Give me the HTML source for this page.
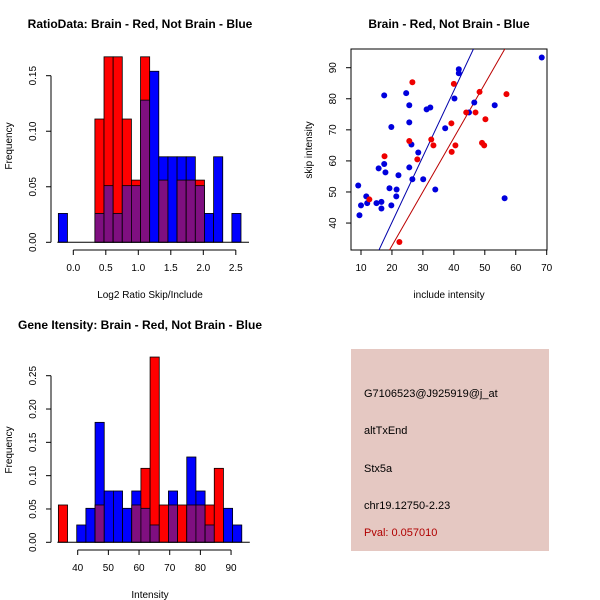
<!DOCTYPE html>
<html><head><meta charset="utf-8"><style>
body{margin:0;background:#fff;}
svg{display:block;font-family:"Liberation Sans",sans-serif;}
</style></head><body>
<svg id="c" width="600" height="600" viewBox="0 0 600 600">
<rect x="0" y="0" width="600" height="600" fill="#fff"/>
<text x="140" y="28" font-size="12" font-weight="bold" text-anchor="middle">RatioData: Brain - Red, Not Brain - Blue</text>
<text x="449" y="28" font-size="12" font-weight="bold" text-anchor="middle">Brain - Red, Not Brain - Blue</text>
<text x="140" y="329" font-size="12" font-weight="bold" text-anchor="middle">Gene Itensity: Brain - Red, Not Brain - Blue</text>
<text x="150" y="298" font-size="10" text-anchor="middle">Log2 Ratio Skip/Include</text>
<text transform="translate(12,146) rotate(-90)" font-size="10" text-anchor="middle">Frequency</text>
<text x="449" y="298" font-size="10" text-anchor="middle">include intensity</text>
<text transform="translate(312,150) rotate(-90)" font-size="10" text-anchor="middle">skip intensity</text>
<text x="150" y="598" font-size="10" text-anchor="middle">Intensity</text>
<text transform="translate(12,450) rotate(-90)" font-size="10" text-anchor="middle">Frequency</text>
<g id="p1"></g><g id="p2"></g><g id="p3"></g>
<g>
<rect x="351" y="349" width="198" height="202" fill="#E5C8C2"/>
<text x="364" y="397" font-size="11">G7106523@J925919@j_at</text>
<text x="364" y="434" font-size="11">altTxEnd</text>
<text x="364" y="472" font-size="11">Stx5a</text>
<text x="364" y="509" font-size="11">chr19.12750-2.23</text>
<text x="364" y="536" font-size="11" fill="#B00000">Pval: 0.057010</text>
</g>
</svg>
<script>
// Ratio histogram data
const ratioBinStart = -0.23;
const ratioBinWidth = 0.1405;
const ratioBlue = [0.026,0,0,0,0.026,0.051,0.026,0.051,0.051,0.128,0.154,0.077,0.077,0.077,0.077,0.051,0.026,0.077,0,0.026];
const ratioRed  = [0,0,0,0,0.111,0.167,0.167,0.111,0.056,0.167,0,0.056,0,0.056,0.056,0.056,0,0,0,0];
const ratioXTicks = [0.0,0.5,1.0,1.5,2.0,2.5];
const ratioYTicks = [0.00,0.05,0.10,0.15];
// Intensity histogram data
const intBinStart = 33.7;
const intBinWidth = 2.99;
const intBlue = [0,0,0.026,0.051,0.18,0.077,0.077,0.051,0.077,0.051,0.026,0,0.077,0,0.128,0.077,0.026,0,0.051,0.026];
const intRed  = [0.056,0,0,0,0.056,0,0,0,0.056,0.111,0.278,0.056,0.056,0.056,0.056,0.056,0.056,0.111,0,0];
const intXTicks = [40,50,60,70,80,90];
const intYTicks = [0.00,0.05,0.10,0.15,0.20,0.25];
// Scatter data
const blueX = [9.1,9.5,10.0,11.7,12.0,15.0,15.7,16.6,16.6,17.5,17.5,17.9,19.2,19.8,19.8,21.5,21.4,22.1,24.6,25.6,25.6,26.3,25.6,26.6,28.5,30.1,31.2,32.4,34.0,37.2,40.2,41.6,41.6,44.9,46.6,53.2,56.4,68.4];
const blueY = [52.1,42.5,45.7,48.6,46.4,46.4,57.6,46.8,44.7,81.1,59.0,56.3,51.2,70.9,45.7,50.8,48.6,55.4,81.8,77.9,72.4,65.3,57.9,54.1,62.7,54.1,76.6,77.2,50.8,70.5,80.1,89.5,88.2,75.6,78.8,77.9,48.0,93.3];
const redX = [12.7,17.6,26.6,25.6,28.2,32.7,33.4,22.4,40.0,39.2,39.3,40.5,44.0,48.3,47.0,50.2,49.1,49.8,57.0];
const redY = [47.6,61.5,85.3,66.4,60.5,66.9,65.0,33.9,84.8,72.1,62.9,65.0,75.6,82.2,75.6,73.4,65.8,65.0,81.5];
const blueFit = [-2.2,2.12];
const redFit = [-2.05,1.737];
const scatXTicks = [10,20,30,40,50,60,70];
const scatYTicks = [40,50,60,70,80,90];

const NS="http://www.w3.org/2000/svg";
function mk(parent,tag,attrs){const e=document.createElementNS(NS,tag);for(const k in attrs)e.setAttribute(k,attrs[k]);parent.appendChild(e);return e;}

function hist(g,name,start,w,blue,red,xticks,yticks,xs,ys,xAxisY,yAxisX,fmtX,fmtY){
  for(let i=0;i<blue.length;i++){
    const b=blue[i],r=red[i];const x0=xs(start+i*w),x1=xs(start+(i+1)*w);
    const hi=Math.max(b,r),lo=Math.min(b,r);
    if(hi>0){
      const e=mk(g,'rect',{x:x0,y:ys(hi),width:x1-x0,height:ys(0)-ys(hi),fill:b>=r?'#0000FF':'#FF0000',stroke:'#000','stroke-width':0.8});
      
      
    }
    if(lo>0){
      const e=mk(g,'rect',{x:x0,y:ys(lo),width:x1-x0,height:ys(0)-ys(lo),fill:'#7F0F80',stroke:'#000','stroke-width':0.8});
      
      
    }
  }
  const base=mk(g,'line',{x1:xs(start)-1,x2:xs(start+blue.length*w)+8,y1:ys(0),y2:ys(0),stroke:'#000'});
  
  
  const xa=mk(g,'line',{x1:xs(xticks[0]),x2:xs(xticks[xticks.length-1]),y1:xAxisY,y2:xAxisY,stroke:'#000'});
  
  
  xticks.forEach(t=>{mk(g,'line',{x1:xs(t),x2:xs(t),y1:xAxisY,y2:xAxisY+5,stroke:'#000'});
    const tx=mk(g,'text',{x:xs(t),y:xAxisY+21,'font-size':10,'text-anchor':'middle'});tx.textContent=fmtX(t);
    
    });
  const ya=mk(g,'line',{x1:yAxisX,x2:yAxisX,y1:ys(yticks[0]),y2:ys(yticks[yticks.length-1]),stroke:'#000'});
  
  
  yticks.forEach(t=>{mk(g,'line',{x1:yAxisX-5,x2:yAxisX,y1:ys(t),y2:ys(t),stroke:'#000'});
    const tx=mk(g,'text',{transform:`translate(${yAxisX-15},${ys(t)}) rotate(-90)`,'font-size':10,'text-anchor':'middle'});tx.textContent=fmtY(t);
    
    });
}
hist(document.getElementById('p1'),'ratio',ratioBinStart,ratioBinWidth,ratioBlue,ratioRed,ratioXTicks,ratioYTicks,
  v=>73.3+v*65, v=>242.3-v*1110.7, 250, 51, v=>v.toFixed(1), v=>v.toFixed(2));
hist(document.getElementById('p3'),'intensity',intBinStart,intBinWidth,intBlue,intRed,intXTicks,intYTicks,
  v=>77.7+(v-40)*3.067, v=>542.3-v*666.4, 550, 51, v=>String(v), v=>v.toFixed(2));

// scatter
const g2=document.getElementById('p2');
const sx=v=>361+(v-10)*3.095, sy=v=>67.7-(v-90)*3.107;
const box=mk(g2,'rect',{x:351,y:49,width:196,height:201,fill:'none',stroke:'#000'});


const cp=mk(g2,'clipPath',{id:'sc'});mk(cp,'rect',{x:351,y:49,width:196,height:201});
const lg=mk(g2,'g',{'clip-path':'url(#sc)'});
[[blueFit,'#0000AA','blue-fit-line'],[redFit,'#BB0000','red-fit-line']].forEach(([f,c,n])=>{
  const e=mk(lg,'line',{x1:sx(0),y1:sy(f[0]),x2:sx(80),y2:sy(f[0]+f[1]*80),stroke:c,'stroke-width':1});
  
  
});
blueX.forEach((x,i)=>{const e=mk(g2,'circle',{cx:sx(x),cy:sy(blueY[i]),r:3,fill:'#0000DD'});
  
  });
redX.forEach((x,i)=>{const e=mk(g2,'circle',{cx:sx(x),cy:sy(redY[i]),r:3,fill:'#EE0000'});
  
  });
scatXTicks.forEach(t=>{mk(g2,'line',{x1:sx(t),x2:sx(t),y1:250,y2:255,stroke:'#000'});
  const tx=mk(g2,'text',{x:sx(t),y:271,'font-size':10,'text-anchor':'middle'});tx.textContent=t;
  
  });
scatYTicks.forEach(t=>{mk(g2,'line',{x1:346,x2:351,y1:sy(t),y2:sy(t),stroke:'#000'});
  const tx=mk(g2,'text',{transform:`translate(336,${sy(t)}) rotate(-90)`,'font-size':10,'text-anchor':'middle'});tx.textContent=t;
  
  });
</script>
</body></html>
